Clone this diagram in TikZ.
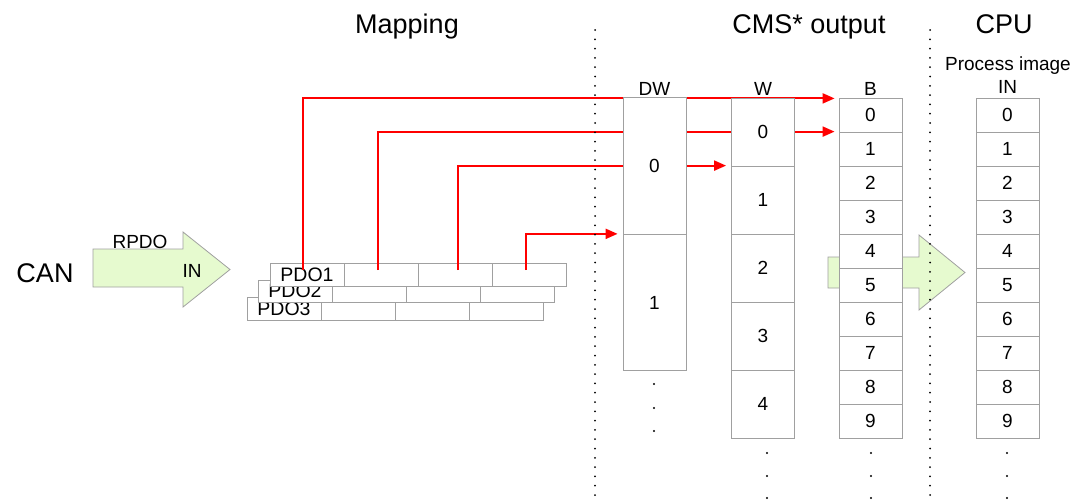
\documentclass[tikz,border=0pt]{standalone}
\usepackage{fontspec}
\setmainfont{Liberation Sans}
\usetikzlibrary{arrows.meta,positioning,calc}
\definecolor{cmsline}{HTML}{A0A0A0}
\definecolor{cmsgreen}{HTML}{E6FACF}
\definecolor{cmsred}{HTML}{FF0000}
\pgfdeclarelayer{back}
\pgfdeclarelayer{links}
\pgfsetlayers{back,links,main}
\tikzset{
  cell/.style={rectangle, draw=cmsline, fill=white, line width=0.8pt,
               minimum width=63pt, minimum height=34pt, inner sep=0pt,
               font=\fontsize{19}{22}\selectfont},
  dblcell/.style={cell, minimum height=68pt},
  quadcell/.style={cell, minimum height=136.5pt},
  pdocell/.style={rectangle, draw=cmsline, fill=white, line width=0.8pt,
                  minimum width=74pt, inner sep=0pt, font=\fontsize{19.5}{22}\selectfont},
  hdr/.style={font=\fontsize{27}{32}\selectfont, anchor=base, inner sep=0pt},
  lbl/.style={font=\fontsize{19}{22}\selectfont, anchor=base, inner sep=0pt},
  sep/.style={line width=2pt, dash pattern=on 0pt off 9.3pt, line cap=round},
  map/.style={-{Triangle[length=12pt,width=10pt]}, draw=cmsred, line width=2pt},
  flow/.style={draw=cmsline, fill=cmsgreen, line width=0.8pt},
}

\begin{document}
\begin{tikzpicture}[x=1pt,y=-1pt]
\useasboundingbox (0,0) rectangle (1092,499);

\begin{pgfonlayer}{back}
% --- green flow arrows
\draw[flow] (93,249) -- (183,249) -- (183,232) -- (230,269.5) -- (183,307)
   -- (183,287) -- (93,287) -- cycle;
\draw[flow] (828,257) -- (919,257) -- (919,235) -- (965,272.5) -- (919,310)
   -- (919,288) -- (828,288) -- cycle;

% --- PDO stack (back to front)
\foreach \r/\x/\y/\h in {3/247/308.5/23, 2/258/291/22, 1/270/274.5/23} {
  \node[pdocell,minimum height=\h pt] (pdo\r-1) at (\x+37,\y) {PDO\r};
  \foreach \c [evaluate=\c as \cx using \x+37+74*(\c-1)] in {2,3,4}
    \node[pdocell,minimum height=\h pt] (pdo\r-\c) at (\cx,\y) {};
}
\end{pgfonlayer}

% --- mapping start points
\coordinate (m1) at (303,270);
\coordinate (m2) at (378,270);
\coordinate (m3) at (458,270);
\coordinate (m4) at (526,270);

% --- CMS output columns
\node[quadcell] (dw0) at (654.5,166) {0};
\node[quadcell] (dw1) at (654.5,302.5) {1};
\foreach \i in {0,...,4}
  \node[dblcell] (w\i) at (763,132+68*\i) {\i};
\foreach \i in {0,...,9}
  \node[cell] (b\i) at (870.5,115+34*\i) {\i};

% --- CPU process image
\foreach \i in {0,...,9}
  \node[cell] (pi\i) at (1007.5,115+34*\i) {\i};

\begin{pgfonlayer}{links}
\draw[map] (m1) |- ([xshift=-4pt,yshift=-0.8pt]b0.north west);
\draw[map] (m2) |- ([xshift=-4pt]b1.north west);
\draw[map] (m3) |- ([xshift=-5pt]w1.north west);
\draw[map] (m4) |- ([xshift=-5pt]dw1.north west);
\end{pgfonlayer}

% --- separators
\draw[sep] (595,30) -- (595,499);
\draw[sep] (930,30) -- (930,499);

% --- continuation dots
\foreach \y in {384,408,431} \fill (654,\y) circle (1.1);
\foreach \x in {767,871,1007}
  \foreach \y in {453,476,498} \fill (\x,\y) circle (1.1);

% --- labels
\node[hdr] (tmap) at (407,33) {Mapping};
\node[hdr] (tcms) at (809,33) {CMS* output};
\node[hdr] (tcpu) at (1004,33) {CPU};
\node[hdr] (tcan) at (45,282) {CAN};
\node[lbl] (trpdo) at (140,248) {RPDO};
\node[lbl] (tin) at (192,277) {IN};
\node[lbl] (tdw) at (654.5,95) {DW};
\node[lbl] (tw) at (763,95) {W};
\node[lbl] (tb) at (870.5,95) {B};
\node[lbl] (tpi) at (1008,70) {Process image};
\node[lbl] (tpin) at (1007.5,93) {IN};
\end{tikzpicture}
\end{document}
